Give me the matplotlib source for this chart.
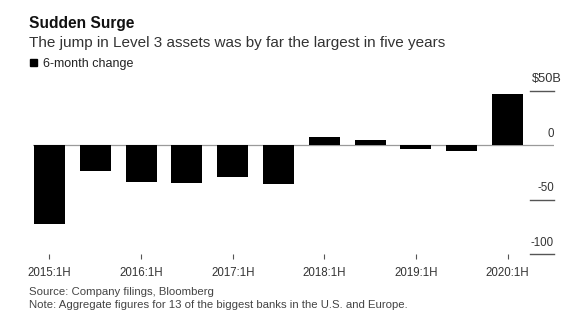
import matplotlib
matplotlib.use("Agg")
import matplotlib.pyplot as plt
from matplotlib.patches import Rectangle

plt.rcParams['font.family'] = ['Liberation Sans', 'DejaVu Sans']

periods = ['2015:1H', '2015:2H', '2016:1H', '2016:2H', '2017:1H', '2017:2H',
           '2018:1H', '2018:2H', '2019:1H', '2019:2H', '2020:1H']
changes = [-72.7, -23.9, -34.0, -35.0, -29.4, -35.9, 7.4, 4.6, -3.7, -5.5, 46.9]
tick_labels = ['2015:1H', '2016:1H', '2017:1H', '2018:1H', '2019:1H', '2020:1H']
y_ticks = [50, 0, -50, -100]
y_tick_labels = ['$50B', '0', '-50', '-100']

W, H = 580, 328
fig = plt.figure(figsize=(W / 100, H / 100), dpi=100)

def fx(px):
    return px / W

def fy(py):
    return 1 - py / H

ax_left, ax_right, ax_top, ax_bot = 33, 554, 86, 254
ax = fig.add_axes([fx(ax_left), fy(ax_bot), fx(ax_right - ax_left), (ax_bot - ax_top) / H])

x = list(range(len(periods)))
ax.bar(x, changes, width=0.68, color='black', zorder=3)

ax.set_xlim(-0.36, 11.015)
ppu = (254 - 91) / 150
ax.set_ylim(-100, 50 + (91 - ax_top) / ppu)

for s in ax.spines.values():
    s.set_visible(False)

# zero line
ax.axhline(0, color='#9a9a9a', lw=0.9, zorder=2)
# short gridline segments at right
for v in y_ticks:
    if v != 0:
        ax.axhline(v, xmin=0.954, xmax=1.0, color='#555555', lw=1.0, clip_on=False, zorder=2)

# y labels
for v, lab in zip(y_ticks, y_tick_labels):
    if lab.startswith('$'):
        ax.annotate(lab, xy=(0.958, v), xycoords=('axes fraction', 'data'),
                    xytext=(0, 8.6), textcoords='offset points', ha='left', va='center',
                    fontsize=9.2, color='#333333')
    else:
        ax.annotate(lab, xy=(1.0, v), xycoords=('axes fraction', 'data'),
                    xytext=(0, 8.2), textcoords='offset points', ha='right', va='center',
                    fontsize=8.3, color='#333333')

ax.set_yticks([])
tick_pos = [periods.index(t) for t in tick_labels]
ax.set_xticks(tick_pos)
ax.set_xticklabels(tick_labels, fontsize=8.3, color='#333333')
ax.tick_params(axis='x', length=3.5, width=0.8, color='#555555', pad=6, direction='out')

# titles
fig.text(fx(29), fy(28), 'Sudden Surge', fontsize=11.2, fontweight='bold', color='#111111', va='baseline')
fig.text(fx(29), fy(47), 'The jump in Level 3 assets was by far the largest in five years',
         fontsize=11.0, color='#333333', va='baseline')
fig.patches.append(Rectangle((fx(30), fy(66)), fx(7), 7 / H, transform=fig.transFigure,
                             color='black', figure=fig))
fig.text(fx(43), fy(63.5), '6-month change', fontsize=9.0, color='#222222', va='center')

fig.text(fx(29), fy(292), 'Source: Company filings, Bloomberg', fontsize=8.2, color='#444444', va='center')
fig.text(fx(29), fy(305), 'Note: Aggregate figures for 13 of the biggest banks in the U.S. and Europe.',
         fontsize=8.2, color='#444444', va='center')

fig.savefig('out.png', dpi=100, facecolor='white')
